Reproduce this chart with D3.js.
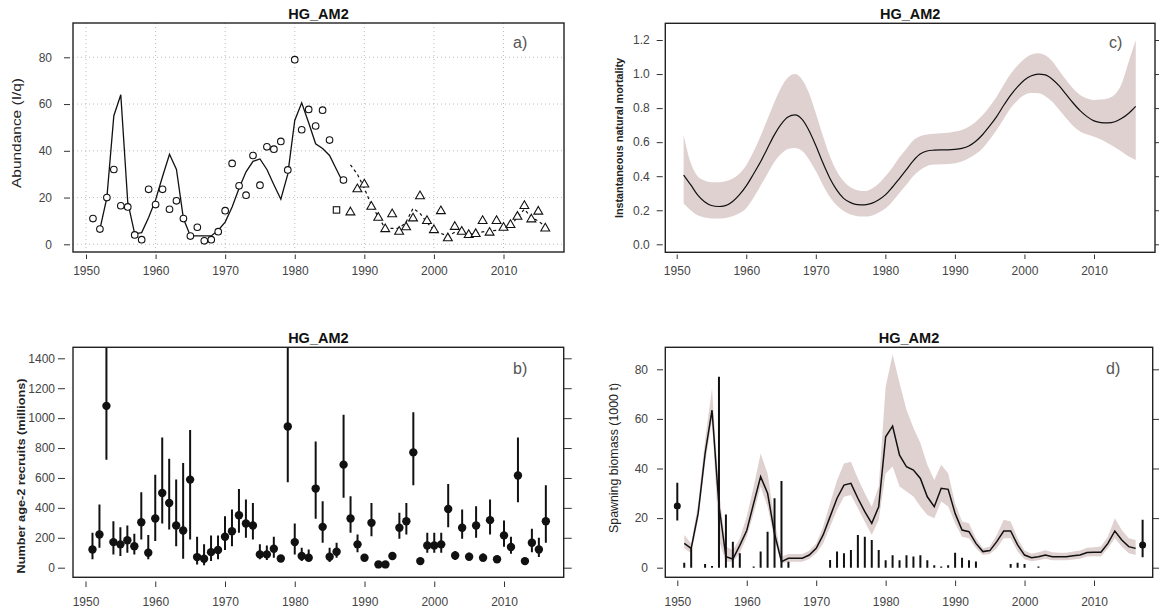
<!DOCTYPE html>
<html>
<head>
<meta charset="utf-8">
<script src="https://cdn.jsdelivr.net/npm/d3@7"></script>
<style>
  body { margin: 0; background: #fff; }
  text { font-family: "Liberation Sans", Arial, sans-serif; }
</style>
</head>
<body>
<svg id="chart" width="1159" height="615"></svg>
<script>
// ---- data ----
var yearTicks = [1950, 1960, 1970, 1980, 1990, 2000, 2010];
var years = d3.range(1951, 2017);   // 1951..2016

// a) abundance indices
var circleYears = [1951,1952,1953,1954,1955,1956,1957,1958,1959,1960,1961,1962,1963,1964,1965,1966,1967,1968,1969,1970,
                   1971,1972,1973,1974,1975,1976,1977,1978,1979,1980,1981,1982,1983,1984,1985,1987];
var circleVals = [11,6.5,20,32,16.5,16,4,2,23.5,17,23.5,15,18.6,11,3.5,7.3,1.5,2,5.4,14.4,
                  34.6,25,21,38,25.3,41.7,40.7,44,31.8,79,49,57.7,50.6,57.4,44.6,27.5];
var squareYears = [1986];
var squareVals = [14.7];
var triYears = [1988,1989,1990,1991,1992,1993,1994,1995,1996,1997,1998,1999,2000,2001,2002,2003,2004,2005,2006,2007,
                2008,2009,2010,2011,2012,2013,2014,2015,2016];
var triVals = [13.7,23.6,25.6,16.1,11.4,6.5,12.9,5.4,7.3,11.1,20.6,10,6.1,14.2,2.6,7.5,5.4,4,4.4,10,
               5,10,7.1,8.3,11.8,16.4,10.7,14,6.8];
var fitAYears = [1952,1953,1954,1955,1956,1957,1958,1959,1960,1961,1962,1963,1964,1965,1966,1967,1968,1969,1970,
                 1971,1972,1973,1974,1975,1976,1977,1978,1979,1980,1981,1982,1983,1984,1985,1986,1987];
var fitAVals = [6.5,20,55,64,18,4.5,5,11.5,19,29,38.5,32,11,3.6,3.6,3.6,3.6,6,9.5,
                16,24,31,35.5,36.5,32,25.5,19.3,30,53,60.5,52,43,41,38,32,26];
var fitBYears = triYears;
var fitBVals = [34,30,24,16.8,11.8,6.8,6.8,6.8,9.5,15.4,13.2,9.4,6,4.7,3.5,5.2,5,4.3,4.7,5.3,
                5.7,6,6.7,8,11.5,15,11.5,10,7.6];

// b) age-2 recruits (millions), years 1951..2016
var recVals = [122,222,1082,171,156,184,144,304,100,329,500,433,282,249,589,71,60,104,118,207,
               244,351,296,282,89,89,127,62,944,171,78,67,529,273,73,107,689,329,156,67,
               300,22,22,78,267,311,771,44,149,149,156,393,82,267,73,282,67,318,56,216,
               138,616,44,167,122,311];
var recLo = [56,133,722,89,78,100,89,189,56,178,296,256,144,60,189,22,16,44,56,118,
             144,233,200,189,56,51,67,44,571,89,44,44,327,167,38,67,467,233,104,44,
             211,12,12,55,193,222,551,30,100,100,100,271,51,193,50,200,45,222,38,140,
             93,438,30,104,71,167];
var recHi = [233,422,1600,311,271,282,227,504,218,622,871,729,589,700,920,207,156,216,216,344,
             389,527,456,433,156,149,207,78,1700,296,133,122,844,444,133,167,1022,478,222,90,
             433,35,35,105,367,433,1040,60,233,233,233,560,111,389,100,411,95,456,75,316,
             207,871,60,260,200,551];

// c) instantaneous natural mortality, years 1951..2016
var mVals = [0.407,0.35,0.29,0.25,0.228,0.222,0.227,0.25,0.29,0.343,0.41,0.48,0.56,0.64,0.705,0.748,0.76,0.735,0.67,0.58,
             0.48,0.39,0.32,0.27,0.245,0.233,0.232,0.24,0.26,0.29,0.335,0.385,0.437,0.49,0.53,0.548,0.553,0.555,0.555,0.557,
             0.563,0.577,0.605,0.645,0.695,0.75,0.815,0.875,0.925,0.965,0.99,1.0,0.995,0.97,0.93,0.88,0.83,0.785,0.75,0.725,
             0.715,0.713,0.72,0.74,0.77,0.81];
var mHi = [0.64,0.48,0.40,0.375,0.365,0.365,0.37,0.385,0.415,0.465,0.54,0.63,0.73,0.83,0.92,0.98,1.0,0.97,0.89,0.77,
           0.64,0.52,0.43,0.37,0.335,0.318,0.313,0.325,0.355,0.40,0.45,0.51,0.56,0.61,0.635,0.645,0.65,0.652,0.655,0.662,
           0.672,0.69,0.72,0.76,0.81,0.867,0.935,1.0,1.05,1.09,1.115,1.122,1.11,1.075,1.02,0.965,0.915,0.877,0.857,0.848,
           0.85,0.857,0.88,0.946,1.073,1.2];
var mLo = [0.24,0.2,0.17,0.157,0.152,0.152,0.155,0.165,0.182,0.212,0.27,0.34,0.41,0.48,0.53,0.56,0.565,0.55,0.50,0.43,
           0.35,0.28,0.23,0.195,0.175,0.165,0.163,0.168,0.185,0.21,0.25,0.30,0.348,0.40,0.437,0.46,0.468,0.47,0.472,0.476,
           0.487,0.505,0.53,0.564,0.615,0.671,0.735,0.799,0.845,0.877,0.888,0.887,0.87,0.838,0.79,0.74,0.695,0.662,0.645,0.632,
           0.615,0.593,0.57,0.544,0.515,0.495];

// d) spawning biomass (1000 t), years 1951..2016
var ssbVals = [9.8,7.8,21.9,46,63.5,25,4.4,3.5,9,15,26,36.7,30,13.8,2.4,3.8,3.8,3.8,5.1,7.8,
               13.2,20.6,28,33.3,34,28,22.6,17.9,24.6,52.8,57.1,45.4,40.7,39.4,36,28.6,24.6,32,31.6,21.9,
               15.2,14.5,9.8,6.5,6.9,10.5,14.8,14.8,9.2,5.1,4,4.4,5.1,4.4,4.4,4.4,4.8,5.1,6.1,6.2,
               6.2,9.8,14.8,11.2,8.5,7.8];
var ssbHi = [13.2,9.8,26,51.5,72.3,31,8.5,7,11.8,20.6,32.7,46,38,19.2,4.4,5.5,5.5,5.5,6.8,9.8,
             16.5,26,35.3,42,42.7,36,30,24.6,32.7,73,86,74.5,63.7,56.3,50.3,41.5,35.4,41.5,38.1,26,
             18.6,17.9,11.9,7.8,8.5,13.2,19.3,18.6,11.9,6.9,5.6,6.2,7,6.2,6,6,6.5,6.9,8,8.2,
             8.5,12.5,19.9,15.2,11.9,11.2];
var ssbLo = [7.8,5.8,19.2,42,59.5,11,2.4,2.4,5.8,12.5,21.9,32.7,24.6,11,1.7,2.4,2.4,2.4,3.5,5.8,
             9.8,16.5,23.3,28.6,29.3,24,18.5,13.2,19.2,38,40.8,32.7,30.7,28.7,24.7,21.3,19.9,26.7,24.7,17.9,
             12.5,11.9,7.8,5.1,5.5,7.8,11.9,11.9,6.5,3.4,2.6,3,3.6,3,3,3,3.3,3.6,4.5,4.6,
             4.5,7.8,11.9,8.5,5.8,5.1];
var catchYears = [1951,1952,1954,1955,1956,1957,1958,1959,1961,1962,1963,1964,1965,1966,1972,1973,1974,1975,1976,1977,
                  1978,1979,1980,1981,1982,1983,1984,1985,1986,1987,1988,1989,1990,1991,1992,1993,1998,1999,2000,2002];
var catchVals = [2,7.8,1.5,0.7,77,21.5,10.5,5.8,0.5,6.5,14.5,28,35,2.4,3.1,6.5,5.8,7.1,13.2,12.5,
                 11.2,7.1,3,5,3,5,4.5,5,3,1,0.5,1,6,4,3,2.5,1.5,2,1.5,0.5];
var surveyYears = [1950, 2017];
var surveyVals = [24.9, 9.2];
var surveyLo = [19, 4.2];
var surveyHi = [34.3, 19.3];

// ---- layout ----
var svg = d3.select("#chart");
svg.append("rect").attr("width", 1159).attr("height", 615).attr("fill", "#fff");

var bandColor = "#e0d1d1";

var panels = {
  a: {l: 73, t: 23, r: 564, b: 252, xr: [86, 503.5], yd: [0, 80], yr: [244.3, 57.3], yt: [0, 20, 40, 60, 80],
      fmt: d3.format("d"), leftAt: 70, leftSize: 6, leftPad: 12, botAt: 254.5, botSize: 4.5, botPad: 7, right: 0,
      ylab: "Abundance (I/q)", ylx: 17, yly: 133, ylLen: 110, ylSize: 12, ylWeight: "normal", tag: "a)", tagX: 513, tagY: 48},
  b: {l: 73, t: 347.3, r: 563.7, b: 577.3, xr: [85.5, 504], yd: [0, 1400], yr: [567.7, 358.3], yt: [0, 200, 400, 600, 800, 1000, 1200, 1400],
      fmt: d3.format("d"), leftAt: 65, leftSize: 7, leftPad: 3, botAt: 581.5, botSize: 5.5, botPad: 10, right: 8,
      ylab: "Number age-2 recruits (millions)", ylx: 21, yly: 476, ylLen: 195, ylSize: 10.5, ylWeight: "bold", tag: "b)", tagX: 513, tagY: 374},
  c: {l: 665.3, t: 23.3, r: 1155, b: 252.3, xr: [676.7, 1094], yd: [0, 1.2], yr: [244.3, 40], yt: [0, 0.2, 0.4, 0.6, 0.8, 1.0, 1.2],
      fmt: d3.format(".1f"), leftAt: 662.7, leftSize: 6, leftPad: 7, botAt: 254.5, botSize: 4.5, botPad: 7, right: 6,
      ylab: "Instantaneous natural mortality", ylx: 619, yly: 138, ylLen: 160, ylSize: 10, ylWeight: "bold", tag: "c)", tagX: 1109, tagY: 48},
  d: {l: 665.3, t: 347.3, r: 1152.7, b: 577.3, xr: [677.3, 1094], yd: [0, 80], yr: [567.7, 369.3], yt: [0, 20, 40, 60, 80],
      fmt: d3.format("d"), leftAt: 663, leftSize: 6, leftPad: 9, botAt: 580.5, botSize: 5.5, botPad: 11, right: 6.5,
      ylab: "Spawning biomass (1000 t)", ylx: 613, yly: 458, ylLen: 150, ylSize: 13, ylWeight: "normal", tag: "d)", tagX: 1106, tagY: 374}
};

var defs = svg.append("defs");

function setup(key) {
  var p = panels[key];
  var x = d3.scaleLinear().domain([1950, 2010]).range(p.xr);
  var y = d3.scaleLinear().domain(p.yd).range(p.yr);
  defs.append("clipPath").attr("id", "clip-" + key)
    .append("rect").attr("x", p.l).attr("y", p.t).attr("width", p.r - p.l).attr("height", p.b - p.t);
  var g = svg.append("g");
  var plot = g.append("g").attr("clip-path", "url(#clip-" + key + ")");
  return {p: p, x: x, y: y, g: g, plot: plot};
}

function styleAxis(sel) {
  sel.select(".domain").remove();
  sel.selectAll("line").attr("stroke", "#333").attr("stroke-width", 1);
  sel.selectAll("text").attr("fill", "#444").style("font-size", "12px")
    .style("font-family", "'Liberation Sans', Arial, sans-serif");
}

function finish(P) {
  var p = P.p, g = P.g;
  g.append("g").attr("transform", "translate(0," + p.botAt + ")")
    .call(d3.axisBottom(P.x).tickValues(yearTicks).tickFormat(d3.format("d")).tickSize(p.botSize).tickPadding(p.botPad))
    .call(styleAxis);
  g.append("g").attr("transform", "translate(" + p.leftAt + ",0)")
    .call(d3.axisLeft(P.y).tickValues(p.yt).tickFormat(p.fmt).tickSize(p.leftSize).tickPadding(p.leftPad))
    .call(styleAxis);
  if (p.right) {
    g.append("g").attr("transform", "translate(" + p.r + ",0)")
      .call(d3.axisRight(P.y).tickValues(p.yt).tickFormat("").tickSize(p.right))
      .call(styleAxis);
  }
  g.append("rect").attr("x", p.l).attr("y", p.t).attr("width", p.r - p.l).attr("height", p.b - p.t)
    .attr("fill", "none").attr("stroke", "#222").attr("stroke-width", 1.4);
  g.append("text").attr("x", (p.l + p.r) / 2).attr("y", p.t - 4).attr("text-anchor", "middle")
    .style("font-size", "14.5px").style("font-weight", "bold").attr("fill", "#111").text("HG_AM2");
  g.append("text").attr("x", p.tagX).attr("y", p.tagY).style("font-size", "16px").attr("fill", "#555").text(p.tag);
  g.append("text")
    .attr("transform", "translate(" + p.ylx + "," + p.yly + ") rotate(-90)")
    .attr("text-anchor", "middle").attr("dy", "0.35em")
    .attr("textLength", p.ylLen).attr("lengthAdjust", "spacingAndGlyphs")
    .style("font-size", p.ylSize + "px").style("font-weight", p.ylWeight).attr("fill", "#222")
    .text(p.ylab);
}

// ---- a) ----
(function () {
  var P = setup("a"), x = P.x, y = P.y, p = P.p;
  var grid = P.plot.append("g").attr("stroke", "#bdbdbd").attr("stroke-dasharray", "1,3");
  grid.selectAll("line.v").data(yearTicks).enter().append("line")
    .attr("x1", x).attr("x2", x).attr("y1", p.t).attr("y2", p.b);
  grid.selectAll("line.h").data(p.yt).enter().append("line")
    .attr("x1", p.l).attr("x2", p.r).attr("y1", y).attr("y2", y);

  var line = d3.line().x(function (d) { return x(d[0]); }).y(function (d) { return y(d[1]); });
  P.plot.append("path").datum(d3.zip(fitAYears, fitAVals)).attr("d", line)
    .attr("fill", "none").attr("stroke", "#111").attr("stroke-width", 1.3);
  P.plot.append("path").datum(d3.zip(fitBYears, fitBVals)).attr("d", line)
    .attr("fill", "none").attr("stroke", "#111").attr("stroke-width", 1.2).attr("stroke-dasharray", "3,3");

  P.plot.selectAll("circle.pt").data(d3.zip(circleYears, circleVals)).enter().append("circle")
    .attr("cx", function (d) { return x(d[0]); }).attr("cy", function (d) { return y(d[1]); })
    .attr("r", 3.3).attr("fill", "#fff").attr("stroke", "#111").attr("stroke-width", 1.1);
  P.plot.selectAll("rect.sq").data(d3.zip(squareYears, squareVals)).enter().append("rect")
    .attr("x", function (d) { return x(d[0]) - 3.2; }).attr("y", function (d) { return y(d[1]) - 3.2; })
    .attr("width", 6.4).attr("height", 6.4).attr("fill", "#fff").attr("stroke", "#111").attr("stroke-width", 1.1);
  var tri = d3.symbol().type(d3.symbolTriangle).size(34);
  P.plot.selectAll("path.tri").data(d3.zip(triYears, triVals)).enter().append("path")
    .attr("d", tri).attr("transform", function (d) { return "translate(" + x(d[0]) + "," + y(d[1]) + ")"; })
    .attr("fill", "#fff").attr("stroke", "#111").attr("stroke-width", 1.1);
  finish(P);
})();

// ---- b) ----
(function () {
  var P = setup("b"), x = P.x, y = P.y;
  var rows = years.map(function (yr, i) { return {yr: yr, v: recVals[i], lo: recLo[i], hi: recHi[i]}; });
  P.plot.selectAll("line.err").data(rows).enter().append("line")
    .attr("x1", function (d) { return x(d.yr); }).attr("x2", function (d) { return x(d.yr); })
    .attr("y1", function (d) { return y(d.lo); }).attr("y2", function (d) { return y(d.hi); })
    .attr("stroke", "#111").attr("stroke-width", 2);
  P.plot.selectAll("circle.pt").data(rows).enter().append("circle")
    .attr("cx", function (d) { return x(d.yr); }).attr("cy", function (d) { return y(d.v); })
    .attr("r", 4.2).attr("fill", "#111");
  finish(P);
})();

// ---- c) ----
(function () {
  var P = setup("c"), x = P.x, y = P.y;
  var rows = years.map(function (yr, i) { return {yr: yr, v: mVals[i], lo: mLo[i], hi: mHi[i]}; });
  P.plot.append("path").datum(rows)
    .attr("d", d3.area().curve(d3.curveMonotoneX).x(function (d) { return x(d.yr); })
      .y0(function (d) { return y(d.lo); }).y1(function (d) { return y(d.hi); }))
    .attr("fill", bandColor);
  P.plot.append("path").datum(rows)
    .attr("d", d3.line().curve(d3.curveMonotoneX).x(function (d) { return x(d.yr); }).y(function (d) { return y(d.v); }))
    .attr("fill", "none").attr("stroke", "#111").attr("stroke-width", 1.2);
  finish(P);
})();

// ---- d) ----
(function () {
  var P = setup("d"), x = P.x, y = P.y;
  var rows = years.map(function (yr, i) { return {yr: yr, v: ssbVals[i], lo: ssbLo[i], hi: ssbHi[i]}; });
  P.plot.append("path").datum(rows)
    .attr("d", d3.area().x(function (d) { return x(d.yr); })
      .y0(function (d) { return y(d.lo); }).y1(function (d) { return y(d.hi); }))
    .attr("fill", bandColor);
  P.plot.selectAll("line.catch").data(d3.zip(catchYears, catchVals)).enter().append("line")
    .attr("x1", function (d) { return x(d[0]); }).attr("x2", function (d) { return x(d[0]); })
    .attr("y1", y(0)).attr("y2", function (d) { return y(d[1]); })
    .attr("stroke", "#111").attr("stroke-width", 2);
  P.plot.append("path").datum(rows)
    .attr("d", d3.line().x(function (d) { return x(d.yr); }).y(function (d) { return y(d.v); }))
    .attr("fill", "none").attr("stroke", "#111").attr("stroke-width", 1.5);
  var sv = surveyYears.map(function (yr, i) { return {yr: yr, v: surveyVals[i], lo: surveyLo[i], hi: surveyHi[i]}; });
  P.plot.selectAll("line.err").data(sv).enter().append("line")
    .attr("x1", function (d) { return x(d.yr); }).attr("x2", function (d) { return x(d.yr); })
    .attr("y1", function (d) { return y(d.lo); }).attr("y2", function (d) { return y(d.hi); })
    .attr("stroke", "#111").attr("stroke-width", 2);
  P.plot.selectAll("circle.sv").data(sv).enter().append("circle")
    .attr("cx", function (d) { return x(d.yr); }).attr("cy", function (d) { return y(d.v); })
    .attr("r", 3.5).attr("fill", "#111");
  finish(P);
})();
</script>
</body>
</html>
